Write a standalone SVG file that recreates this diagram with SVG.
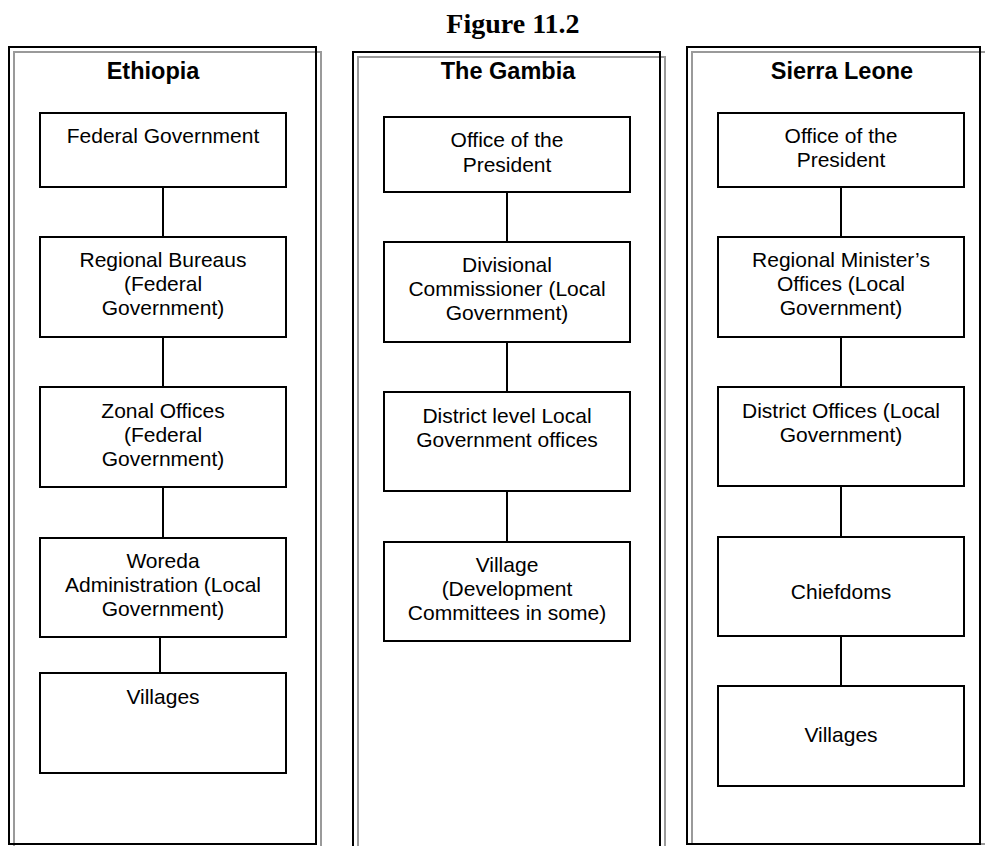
<svg xmlns="http://www.w3.org/2000/svg" width="985" height="846" viewBox="0 0 985 846">
  <style>
    .frame { fill: none; stroke: #000; stroke-width: 2; }
    .frame2 { fill: none; stroke: #9a9a9a; stroke-width: 2; }
    .box { fill: #fff; stroke: #000; stroke-width: 2; }
    .link { stroke: #000; stroke-width: 2; fill: none; }
    .title { font-family: "Liberation Serif", "Times New Roman", serif; font-weight: bold; font-size: 28px; text-anchor: middle; fill: #000; }
    .head { font-family: "Liberation Sans", Arial, sans-serif; font-weight: bold; font-size: 23.5px; text-anchor: middle; fill: #000; }
    .lbl { font-family: "Liberation Sans", Arial, sans-serif; font-size: 21px; text-anchor: middle; fill: #000; }
  </style>
  <rect width="985" height="846" fill="#fff"/>

  <text class="title" x="513" y="33">Figure 11.2</text>

  <!-- column frames: black outline with a grey outline offset down-right -->
  <g id="frames">
    <rect class="frame2" x="14" y="52" width="307" height="800"/>
    <rect class="frame" x="9" y="47" width="307" height="797"/>
    <rect class="frame2" x="358" y="57" width="307" height="800"/>
    <rect class="frame" x="353" y="52" width="307" height="800"/>
    <rect class="frame2" x="692" y="52" width="300" height="792"/>
    <rect class="frame" x="687" y="47" width="293" height="797"/>
  </g>

  <text class="head" x="153" y="79">Ethiopia</text>
  <text class="head" x="508" y="79">The Gambia</text>
  <text class="head" x="842" y="79">Sierra Leone</text>

  <g id="connectors">
    <line class="link" x1="163" y1="187" x2="163" y2="237"/>
    <line class="link" x1="163" y1="337" x2="163" y2="387"/>
    <line class="link" x1="163" y1="487" x2="163" y2="538"/>
    <line class="link" x1="160" y1="637" x2="160" y2="673"/>

    <line class="link" x1="507" y1="192" x2="507" y2="242"/>
    <line class="link" x1="507" y1="342" x2="507" y2="392"/>
    <line class="link" x1="507" y1="491" x2="507" y2="542"/>

    <line class="link" x1="841" y1="187" x2="841" y2="237"/>
    <line class="link" x1="841" y1="337" x2="841" y2="387"/>
    <line class="link" x1="841" y1="486" x2="841" y2="537"/>
    <line class="link" x1="841" y1="636" x2="841" y2="686"/>
  </g>

  <!-- Ethiopia -->
  <g id="eth-federal">
    <rect class="box" x="40" y="113" width="246" height="74"/>
    <text class="lbl" x="163" y="143">Federal Government</text>
  </g>
  <g id="eth-regional">
    <rect class="box" x="40" y="237" width="246" height="100"/>
    <text class="lbl" x="163" y="267">Regional Bureaus</text>
    <text class="lbl" x="163" y="291">(Federal</text>
    <text class="lbl" x="163" y="315">Government)</text>
  </g>
  <g id="eth-zonal">
    <rect class="box" x="40" y="387" width="246" height="100"/>
    <text class="lbl" x="163" y="418">Zonal Offices</text>
    <text class="lbl" x="163" y="442">(Federal</text>
    <text class="lbl" x="163" y="466">Government)</text>
  </g>
  <g id="eth-woreda">
    <rect class="box" x="40" y="538" width="246" height="99"/>
    <text class="lbl" x="163" y="568">Woreda</text>
    <text class="lbl" x="163" y="592">Administration (Local</text>
    <text class="lbl" x="163" y="616">Government)</text>
  </g>
  <g id="eth-villages">
    <rect class="box" x="40" y="673" width="246" height="100"/>
    <text class="lbl" x="163" y="704">Villages</text>
  </g>

  <!-- The Gambia -->
  <g id="gam-president">
    <rect class="box" x="384" y="117" width="246" height="75"/>
    <text class="lbl" x="507" y="147">Office of the</text>
    <text class="lbl" x="507" y="172">President</text>
  </g>
  <g id="gam-divisional">
    <rect class="box" x="384" y="242" width="246" height="100"/>
    <text class="lbl" x="507" y="272">Divisional</text>
    <text class="lbl" x="507" y="296">Commissioner (Local</text>
    <text class="lbl" x="507" y="320">Government)</text>
  </g>
  <g id="gam-district">
    <rect class="box" x="384" y="392" width="246" height="99"/>
    <text class="lbl" x="507" y="423">District level Local</text>
    <text class="lbl" x="507" y="447">Government offices</text>
  </g>
  <g id="gam-village">
    <rect class="box" x="384" y="542" width="246" height="99"/>
    <text class="lbl" x="507" y="572">Village</text>
    <text class="lbl" x="507" y="596">(Development</text>
    <text class="lbl" x="507" y="620">Committees in some)</text>
  </g>

  <!-- Sierra Leone -->
  <g id="sl-president">
    <rect class="box" x="718" y="113" width="246" height="74"/>
    <text class="lbl" x="841" y="143">Office of the</text>
    <text class="lbl" x="841" y="167">President</text>
  </g>
  <g id="sl-regional">
    <rect class="box" x="718" y="237" width="246" height="100"/>
    <text class="lbl" x="841" y="267">Regional Minister’s</text>
    <text class="lbl" x="841" y="291">Offices (Local</text>
    <text class="lbl" x="841" y="315">Government)</text>
  </g>
  <g id="sl-district">
    <rect class="box" x="718" y="387" width="246" height="99"/>
    <text class="lbl" x="841" y="418">District Offices (Local</text>
    <text class="lbl" x="841" y="442">Government)</text>
  </g>
  <g id="sl-chiefdoms">
    <rect class="box" x="718" y="537" width="246" height="99"/>
    <text class="lbl" x="841" y="599">Chiefdoms</text>
  </g>
  <g id="sl-villages">
    <rect class="box" x="718" y="686" width="246" height="100"/>
    <text class="lbl" x="841" y="742">Villages</text>
  </g>
</svg>
